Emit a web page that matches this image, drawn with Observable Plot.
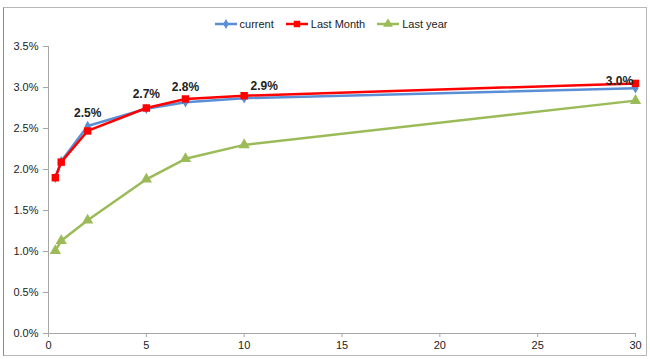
<!DOCTYPE html>
<html><head><meta charset="utf-8">
<script src="https://cdn.jsdelivr.net/npm/d3@7"></script>
<script src="https://cdn.jsdelivr.net/npm/@observablehq/plot@0.6"></script>
<style>
body{margin:0;background:#fff;font-family:"Liberation Sans",Arial,sans-serif;}
#wrap{position:relative;width:650px;height:359px;overflow:hidden;}
#frame{position:absolute;left:3px;top:7px;width:642px;height:347px;border:1px solid #b8b8b8;border-left-color:#6f8fc6;border-bottom-color:#b8b8b8;}
#legend{position:absolute;top:18px;left:6px;width:650px;text-align:center;font-size:11px;color:#222;}
#legend span.item{display:inline-flex;align-items:center;margin:0 6px;}
#legend svg{margin-right:3px;}
#chart{position:absolute;left:0;top:0;}
</style></head>
<body>
<div id="wrap"><div id="frame"></div><div id="chart"></div><div id="legend"></div></div>
<script>
const maturities = [0.35, 0.65, 2, 5, 7, 10, 30];
const current   = [1.90, 2.10, 2.53, 2.74, 2.82, 2.87, 2.99];
const lastMonth = [1.90, 2.09, 2.47, 2.75, 2.86, 2.90, 3.05];
const lastYear  = [1.01, 1.13, 1.38, 1.88, 2.13, 2.30, 2.84];
const seriesNames = ["current", "Last Month", "Last year"];
const labelMaturities = [2, 5, 7, 10, 30];
const labelTexts = ["2.5%", "2.7%", "2.8%", "2.9%", "3.0%"];
const xTicks = [0, 5, 10, 15, 20, 25, 30];
const yTicks = [0, 0.5, 1, 1.5, 2, 2.5, 3, 3.5];

const colors = {"current": "#5a8fd6", "Last Month": "#ff0000", "Last year": "#9bbb59"};
const symbols = {"current": "diamond", "Last Month": "square", "Last year": "triangle"};
const values = {"current": current, "Last Month": lastMonth, "Last year": lastYear};
const rows = [];
for (const s of ["Last year", "current", "Last Month"]) {
  maturities.forEach((m, i) => rows.push({series: s, x: m, y: values[s][i]}));
}
const labels = labelMaturities.map((m, i) => ({x: m, y: lastMonth[maturities.indexOf(m)], text: labelTexts[i]}));
const labelOffsets = [[0, -18], [0, -14], [0, -12], [20, -10], [-16, -2]];

const series = s => rows.filter(r => r.series === s);
const marks = [
  Plot.ruleY([0], {stroke: "#a6a6a6"}),
  Plot.ruleX([0], {stroke: "#a6a6a6"}),
  Plot.axisX({ticks: xTicks, tickSize: 4, tickFormat: d => d, stroke: "#a6a6a6", fill: "#222", fontSize: 11, label: null, tickPadding: 4}),
  Plot.axisY({ticks: yTicks, tickSize: 5, tickFormat: d => d.toFixed(1) + "%", stroke: "#a6a6a6", fill: "#222", fontSize: 11, label: null, tickPadding: 5})
];
for (const s of ["Last year", "current", "Last Month"]) {
  marks.push(Plot.line(series(s), {x: "x", y: "y", stroke: colors[s], strokeWidth: 2.5}));
  marks.push(Plot.dot(series(s), {x: "x", y: "y", fill: colors[s], symbol: symbols[s], r: s === "current" ? 3.2 : 4.2, stroke: "none"}));
}
labels.forEach((l, i) => {
  marks.push(Plot.text([l], {x: "x", y: "y", text: "text", dx: labelOffsets[i][0], dy: labelOffsets[i][1], fontSize: 12, fontWeight: "bold", fill: "#222"}));
});

const chart = Plot.plot({
  width: 650, height: 359,
  marginLeft: 48, marginRight: 15, marginTop: 46, marginBottom: 26,
  x: {domain: [0, 30]},
  y: {domain: [0, 3.5]},
  style: {background: "transparent", fontFamily: "Liberation Sans, Arial, sans-serif"},
  marks
});
document.getElementById("chart").appendChild(chart);

const legend = document.getElementById("legend");
const symPaths = {"current": d3.symbol(d3.symbolDiamond, 28)(), "Last Month": d3.symbol(d3.symbolSquare, 42)(), "Last year": d3.symbol(d3.symbolTriangle, 42)()};
seriesNames.forEach(s => {
  const item = document.createElement("span");
  item.className = "item";
  item.innerHTML = `<svg width="22" height="10"><line x1="0" x2="22" y1="5" y2="5" stroke="${colors[s]}" stroke-width="2.5"/><path d="${symPaths[s]}" transform="translate(11,5)" fill="${colors[s]}"/></svg><span>${s}</span>`;
  legend.appendChild(item);
});
</script>
</body></html>
